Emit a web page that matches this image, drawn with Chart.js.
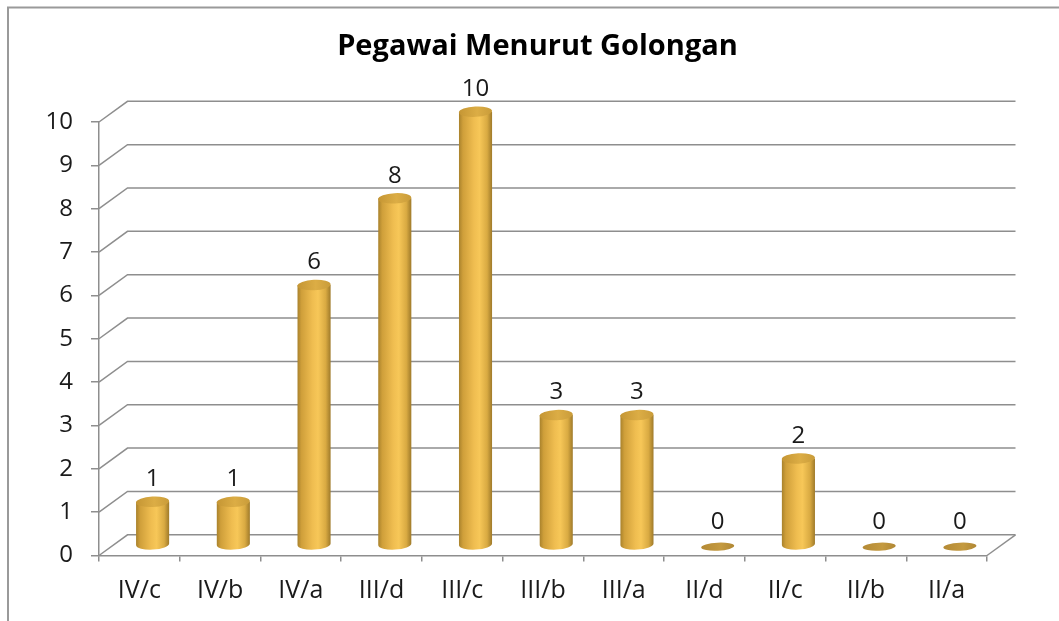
<!DOCTYPE html>
<html>
<head>
<meta charset="utf-8">
<script src="https://cdn.jsdelivr.net/npm/chart.js@4"></script>
<style>
  html, body { margin: 0; padding: 0; background: #fff; }
  #wrap { width: 1059px; height: 621px; }
</style>
</head>
<body>
<div id="wrap"><canvas id="c" width="1059" height="621"></canvas></div>
<script>
const categories = ['IV/c', 'IV/b', 'IV/a', 'III/d', 'III/c', 'III/b', 'III/a', 'II/d', 'II/c', 'II/b', 'II/a'];
const values = [1, 1, 6, 8, 10, 3, 3, 0, 2, 0, 0];
const yMin = 0, yMax = 10, yStep = 1;
const titleText = 'Pegawai Menurut Golongan';

const LABEL_FONT = 'Open Sans';
const GRID = '#8e8e8e';
const DEPTH_X = 28.5, DEPTH_Y = -20.7;

const framePlugin = {
  id: 'frame',
  beforeDraw(chart) {
    const ctx = chart.ctx;
    ctx.save();
    ctx.fillStyle = '#ffffff';
    ctx.fillRect(0, 0, chart.width, chart.height);
    ctx.strokeStyle = '#9a9a9a';
    ctx.lineWidth = 2;
    ctx.strokeRect(8, 7.5, chart.width + 20, chart.height + 20);
    ctx.restore();
  }
};

const grid3dPlugin = {
  id: 'grid3d',
  beforeDatasetsDraw(chart) {
    const ctx = chart.ctx, y = chart.scales.y, a = chart.chartArea;
    ctx.save();
    ctx.strokeStyle = GRID;
    ctx.lineWidth = 1.5;
    y.ticks.forEach(t => {
      const py = y.getPixelForValue(t.value);
      ctx.beginPath();
      ctx.moveTo(a.left, py);
      ctx.lineTo(a.left + DEPTH_X, py + DEPTH_Y);
      ctx.lineTo(a.right + DEPTH_X, py + DEPTH_Y);
      ctx.stroke();
    });
    ctx.beginPath();
    ctx.moveTo(a.right, a.bottom);
    ctx.lineTo(a.right + DEPTH_X, a.bottom + DEPTH_Y);
    ctx.stroke();
    ctx.restore();
  }
};

function bodyGradient(ctx, x0, x1) {
  const g = ctx.createLinearGradient(x0, 0, x1, 0);
  g.addColorStop(0, '#a9822c');
  g.addColorStop(0.12, '#cf9f3a');
  g.addColorStop(0.45, '#efbd50');
  g.addColorStop(0.62, '#f7c758');
  g.addColorStop(0.85, '#d9aa42');
  g.addColorStop(1, '#9f7a2a');
  return g;
}

const cylinderPlugin = {
  id: 'cylinders',
  afterDatasetsDraw(chart) {
    const ctx = chart.ctx;
    const meta = chart.getDatasetMeta(0);
    ctx.save();
    meta.data.forEach((bar, i) => {
      const p = bar.getProps(['x', 'y', 'base', 'width'], true);
      const cx = p.x + DEPTH_X / 2 - 1;
      const bottom = p.base + DEPTH_Y / 2;
      const top = p.y + DEPTH_Y / 2;
      const rx = p.width / 2, ry = 5.2, rot = -0.05;
      if (bottom - top < 1) {
        const g = ctx.createLinearGradient(cx - rx, 0, cx + rx, 0);
        g.addColorStop(0, '#b48a35');
        g.addColorStop(0.6, '#c49a40');
        g.addColorStop(1, '#b08734');
        ctx.fillStyle = g;
        ctx.beginPath();
        ctx.ellipse(cx, bottom + 1.5, rx, 4, rot, 0, Math.PI * 2);
        ctx.fill();
      } else {
        ctx.fillStyle = bodyGradient(ctx, cx - rx, cx + rx);
        ctx.beginPath();
        ctx.moveTo(cx - rx, top);
        ctx.lineTo(cx - rx, bottom);
        ctx.ellipse(cx, bottom, rx, ry, rot, Math.PI, 0, true);
        ctx.lineTo(cx + rx, top);
        ctx.closePath();
        ctx.fill();
        const tg = ctx.createLinearGradient(cx - rx, top, cx + rx, top);
        tg.addColorStop(0, '#c59634');
        tg.addColorStop(0.55, '#dcad45');
        tg.addColorStop(1, '#c99c3a');
        ctx.fillStyle = tg;
        ctx.beginPath();
        ctx.ellipse(cx, top, rx, ry, rot, 0, Math.PI * 2);
        ctx.fill();
      }
      ctx.fillStyle = '#1a1a1a';
      ctx.font = '24px "' + LABEL_FONT + '"';
      ctx.textAlign = 'center';
      ctx.textBaseline = 'middle';
      ctx.fillText(String(values[i]), cx, top - 22.5);
    });
    ctx.restore();
  }
};

new Chart(document.getElementById('c'), {
  type: 'bar',
  data: {
    labels: categories,
    datasets: [{
      data: values,
      backgroundColor: 'rgba(0,0,0,0)',
      borderWidth: 0,
      categoryPercentage: 1,
      barPercentage: 0.41
    }]
  },
  options: {
    responsive: false,
    animation: false,
    events: [],
    layout: { padding: { left: 0, right: -16, top: 0, bottom: 0 } },
    plugins: {
      legend: { display: false },
      tooltip: { enabled: false },
      title: {
        display: true,
        text: titleText,
        color: '#000000',
        font: { family: LABEL_FONT, size: 29, weight: 'bold', lineHeight: 1.2 },
        padding: { top: 29.5, bottom: 57.7 }
      }
    },
    scales: {
      x: {
        grid: { display: true, offset: true, drawOnChartArea: false, tickLength: 6, color: GRID, lineWidth: 1.5 },
        border: { display: true, color: GRID, width: 1.5 },
        ticks: { color: '#1a1a1a', font: { family: LABEL_FONT, size: 25 }, padding: 14, maxRotation: 0 },
        afterFit(s) { s.height = 621 - 555.5; }
      },
      y: {
        min: yMin, max: yMax,
        grid: { display: true, drawOnChartArea: false, tickLength: 8, color: GRID, lineWidth: 1.5 },
        border: { display: true, color: GRID, width: 1.5 },
        ticks: { stepSize: yStep, color: '#1a1a1a', font: { family: LABEL_FONT, size: 24 }, padding: 18 },
        afterFit(s) { s.width = 99; }
      },
      yRight: {
        position: 'right',
        display: true,
        min: yMin, max: yMax,
        grid: { display: false },
        border: { display: false },
        ticks: { display: false },
        afterFit(s) { s.width = 88; }
      }
    }
  },
  plugins: [framePlugin, grid3dPlugin, cylinderPlugin]
});
</script>
</body>
</html>
